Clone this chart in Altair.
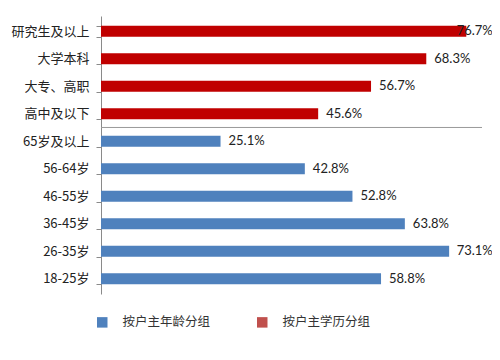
import altair as alt
import pandas as pd

categories = ["研究生及以上", "大学本科", "大专、高职", "高中及以下",
              "65岁及以上", "56-64岁", "46-55岁", "36-45岁", "26-35岁", "18-25岁"]
values = [76.7, 68.3, 56.7, 45.6, 25.1, 42.8, 52.8, 63.8, 73.1, 58.8]
groups = ["按户主学历分组"] * 4 + ["按户主年龄分组"] * 6
group_order = ["按户主年龄分组", "按户主学历分组"]
bar_colors = ["#4F81BD", "#C00000"]
legend_colors = ["#4F81BD", "#C0504D"]
separator_after = ["高中及以下"]

df = pd.DataFrame({"cat": categories, "value": values, "group": groups})
df["label"] = [f"{v:.1f}%" for v in values]
sep = pd.DataFrame({"cat": separator_after})

W, H = 381, 278
P_IN, P_OUT = 0.6, 0.35
step = H / (len(categories) - P_IN + 2 * P_OUT)

y_enc = alt.Y("cat:N", sort=categories,
              scale=alt.Scale(paddingInner=P_IN, paddingOuter=P_OUT),
              axis=alt.Axis(title=None, tickBand="extent", labelFont="Noto Sans CJK SC",
                            labelFontSize=13, labelColor="#222222", tickSize=5,
                            labelPadding=7, domainColor="#8a8a8a", tickColor="#8a8a8a",
                            grid=False))
x_enc = alt.X("value:Q", scale=alt.Scale(domain=[0, 80]), axis=None)

bars = alt.Chart(df).mark_bar(size=11).encode(
    x=x_enc, y=y_enc,
    color=alt.Color("group:N", scale=alt.Scale(domain=group_order, range=bar_colors), legend=None),
)

legend_layer = alt.Chart(df).mark_square(opacity=0, size=100).encode(
    x=x_enc, y=y_enc,
    fill=alt.Fill("group:N", scale=alt.Scale(domain=group_order, range=legend_colors),
                  legend=alt.Legend(title=None, orient="none", legendX=-5, legendY=300,
                                    direction="horizontal", symbolType="square",
                                    symbolSize=110, symbolOpacity=1, symbolStrokeWidth=0,
                                    labelFont="Noto Sans CJK SC", labelFontSize=12.5,
                                    labelColor="#333333", labelOffset=14,
                                    columnPadding=45)),
)

labels = alt.Chart(df).transform_calculate(
    xpos="min(datum.value, 73.0)"
).mark_text(align="left", baseline="middle", dx=8, font="Lato", fontSize=13,
            color="#222222").encode(
    x=alt.X("xpos:Q", scale=alt.Scale(domain=[0, 80]), axis=None),
    y=y_enc, text="label:N")

rule = alt.Chart(sep).mark_rule(color="#9a9a9a", strokeWidth=1,
                                yOffset=P_IN * step / 2).encode(
    y=alt.Y("cat:N", sort=categories, bandPosition=1),
    x=alt.value(0), x2=alt.value(W))

chart = alt.layer(bars, legend_layer, rule, labels).resolve_scale(
    fill="independent", color="independent"
).properties(
    width=W, height=H,
    autosize=alt.AutoSizeParams(type="none"),
    padding={"left": 93, "top": 8, "right": 10, "bottom": 50},
).configure_view(stroke=None)

chart.save("out.html", embed_options={"renderer": "svg", "actions": False})
